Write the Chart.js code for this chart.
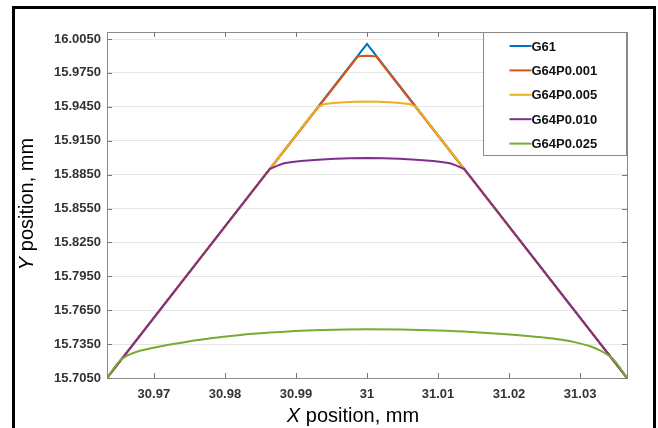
<!DOCTYPE html>
<html>
<head>
<meta charset="utf-8">
<script src="https://cdn.jsdelivr.net/npm/chart.js@4/dist/chart.umd.min.js"></script>
<style>
    html, body { margin: 0; padding: 0; background: #fff; }
    #wrap { position: relative; width: 658px; height: 428px; }
    #frame {
        position: absolute; left: 12px; top: 6px; width: 638px; height: 430px;
        border: 3px solid #000; border-bottom: none; pointer-events: none;
    }
</style>
</head>
<body>
<div id="wrap">
    <canvas id="chart" width="658" height="428"></canvas>
    <div id="frame"></div>
</div>
<script>
const seriesNames = ["G61", "G64P0.001", "G64P0.005", "G64P0.010", "G64P0.025"];
const seriesColors = ["#0072BD", "#D95319", "#EDB120", "#7E2F8E", "#77AC30"];

const g61X = [30.9634, 31.0, 31.0366];
const g61Y = [15.705, 16.0006, 15.705];

const p001X = [30.9634, 30.9987, 30.9993, 31.0, 31.0007, 31.0013, 31.0366];
const p001Y = [15.705, 15.9895, 15.9899, 15.9901, 15.9899, 15.9895, 15.705];

const p005X = [30.9634, 30.9931, 30.9939, 30.9953, 30.9968, 30.9984, 31.0, 31.0016, 31.0032, 31.0047, 31.0061, 31.0069, 31.0366];
const p005Y = [15.705, 15.945, 15.9472, 15.9483, 15.9490, 15.9495, 15.9497, 15.9495, 15.9490, 15.9483, 15.9472, 15.945, 15.705];

const p010X = [30.9634, 30.9863, 30.9874, 30.9883, 30.9895, 30.9907, 30.9931, 30.9955, 30.9977, 31.0, 31.0023, 31.0045, 31.0069, 31.0093, 31.0105, 31.0117, 31.0126, 31.0137, 31.0366];
const p010Y = [15.705, 15.890, 15.8929, 15.8950, 15.8962, 15.8970, 15.8982, 15.8990, 15.8994, 15.8997, 15.8994, 15.8990, 15.8982, 15.8970, 15.8962, 15.8950, 15.8929, 15.890, 15.705];

const p025X = [30.9634, 30.9653, 30.9660, 30.9667, 30.9677, 30.9688, 30.9701, 30.9719, 30.9747, 30.9780, 30.9822, 30.9864, 30.9907, 30.9956, 31.0, 31.0048, 31.0100, 31.0147, 31.0201, 31.0246, 31.0274, 31.0295, 31.0314, 31.0328, 31.0339, 31.0347, 31.0366];
const p025Y = [15.705, 15.7209, 15.7240, 15.7262, 15.7285, 15.7302, 15.7320, 15.7342, 15.7371, 15.7401, 15.7431, 15.7452, 15.7469, 15.7478, 15.7482, 15.7479, 15.7470, 15.7457, 15.7435, 15.7410, 15.7388, 15.7363, 15.7331, 15.7295, 15.7254, 15.7214, 15.705];

const xTicks = [30.97, 30.98, 30.99, 31.0, 31.01, 31.02, 31.03];
const xTickLabels = ["30.97", "30.98", "30.99", "31", "31.01", "31.02", "31.03"];
const yTicks = [15.705, 15.735, 15.765, 15.795, 15.825, 15.855, 15.885, 15.915, 15.945, 15.975, 16.005];
const yTickLabels = ["15.7050", "15.7350", "15.7650", "15.7950", "15.8250", "15.8550", "15.8850", "15.9150", "15.9450", "15.9750", "16.0050"];

const xTitle = ["X", " position, mm"];
const yTitle = ["Y", " position, mm"];

const fontFamily = "'Liberation Sans', Arial, sans-serif";
const axisColor = "#8a8a8a";

function toPoints(xs, ys) {
    return xs.map(function (x, i) { return { x: x, y: ys[i] }; });
}

const allX = [g61X, p001X, p005X, p010X, p025X];
const allY = [g61Y, p001Y, p005Y, p010Y, p025Y];

const datasets = seriesNames.map(function (name, i) {
    const ds = {
        label: name,
        data: toPoints(allX[i], allY[i]),
        borderColor: seriesColors[i],
        backgroundColor: seriesColors[i],
        borderWidth: 2,
        pointRadius: 0,
        showLine: true,
        tension: 0,
        order: seriesNames.length - i, // later series drawn on top
    };
    // the widest blend is a smooth curve
    if (i === seriesNames.length - 1) ds.cubicInterpolationMode = "monotone";
    return ds;
});

// titles with italic first letter
function drawTitle(ctx, parts, size) {
    ctx.font = "italic " + size + "px " + fontFamily;
    const w1 = ctx.measureText(parts[0]).width;
    ctx.font = size + "px " + fontFamily;
    const w2 = ctx.measureText(parts[1]).width;
    const start = -(w1 + w2) / 2;
    ctx.textAlign = "left";
    ctx.textBaseline = "alphabetic";
    ctx.font = "italic " + size + "px " + fontFamily;
    ctx.fillText(parts[0], start, 0);
    ctx.font = size + "px " + fontFamily;
    ctx.fillText(parts[1], start + w1, 0);
}

const decorPlugin = {
    id: "decor",
    afterDraw: function (chart) {
        const ctx = chart.ctx;
        const a = chart.chartArea;
        const xs = chart.scales.x;
        const ys = chart.scales.y;

        ctx.save();
        // axes box
        ctx.strokeStyle = axisColor;
        ctx.lineWidth = 1;
        ctx.strokeRect(Math.round(a.left) + 0.5, Math.round(a.top) + 0.5,
            Math.round(a.right - a.left), Math.round(a.bottom - a.top));

        // inward tick marks
        const tl = 5;
        ctx.strokeStyle = "#777";
        ctx.beginPath();
        xTicks.forEach(function (v) {
            const px = Math.round(xs.getPixelForValue(v)) + 0.5;
            ctx.moveTo(px, a.bottom); ctx.lineTo(px, a.bottom - tl);
            ctx.moveTo(px, a.top); ctx.lineTo(px, a.top + tl);
        });
        yTicks.forEach(function (v) {
            const py = Math.round(ys.getPixelForValue(v)) + 0.5;
            ctx.moveTo(a.left, py); ctx.lineTo(a.left + tl, py);
            ctx.moveTo(a.right, py); ctx.lineTo(a.right - tl, py);
        });
        ctx.stroke();

        // legend
        const bw = 143, bh = 123;
        const bx = Math.round(a.right) - bw - 1 + 0.5;
        const by = Math.round(a.top) + 0.5;
        ctx.fillStyle = "#fff";
        ctx.fillRect(bx, by, bw, bh);
        ctx.strokeStyle = axisColor;
        ctx.strokeRect(bx, by, bw, bh);
        ctx.font = "bold 13px " + fontFamily;
        ctx.textAlign = "left";
        ctx.textBaseline = "middle";
        seriesNames.forEach(function (name, i) {
            const ry = by + 13.5 + i * 24.4;
            ctx.strokeStyle = seriesColors[i];
            ctx.lineWidth = 2;
            ctx.beginPath();
            ctx.moveTo(bx + 26, ry);
            ctx.lineTo(bx + 48, ry);
            ctx.stroke();
            ctx.fillStyle = "#111";
            ctx.fillText(name, bx + 48, ry + 1);
        });

        // axis titles
        ctx.fillStyle = "#000";
        ctx.save();
        ctx.translate(353, 422);
        drawTitle(ctx, xTitle, 20);
        ctx.restore();

        ctx.save();
        ctx.translate(33, 204);
        ctx.rotate(-Math.PI / 2);
        drawTitle(ctx, yTitle, 20);
        ctx.restore();

        ctx.restore();
    },
};

new Chart(document.getElementById("chart"), {
    type: "scatter",
    data: { datasets: datasets },
    options: {
        responsive: false,
        animation: false,
        devicePixelRatio: 1,
        layout: { padding: { left: 0, right: 31, top: 32, bottom: 0 } },
        plugins: {
            legend: { display: false },
            tooltip: { enabled: false },
        },
        scales: {
            x: {
                type: "linear",
                min: 30.9634,
                max: 31.0366,
                afterBuildTicks: function (s) { s.ticks = xTicks.map(function (v) { return { value: v }; }); },
                afterFit: function (s) { s.height = 50; },
                ticks: {
                    callback: function (v, i) { return xTickLabels[i]; },
                    font: { family: fontFamily, size: 13, weight: "bold" },
                    color: "#333",
                    padding: 9,
                    maxRotation: 0,
                    autoSkip: false,
                },
                grid: { display: false, drawTicks: false },
                border: { display: true, color: axisColor, width: 1 },
            },
            y: {
                type: "linear",
                min: 15.705,
                max: 16.0112,
                afterBuildTicks: function (s) { s.ticks = yTicks.map(function (v) { return { value: v }; }); },
                afterFit: function (s) { s.width = 107; },
                ticks: {
                    callback: function (v, i) { return yTickLabels[i]; },
                    font: { family: fontFamily, size: 13, weight: "bold" },
                    color: "#333",
                    padding: 6,
                    autoSkip: false,
                },
                grid: { color: "#e6e6e6", drawTicks: false },
                border: { display: true, color: axisColor, width: 1 },
            },
        },
    },
    plugins: [decorPlugin],
});
</script>
</body>
</html>
